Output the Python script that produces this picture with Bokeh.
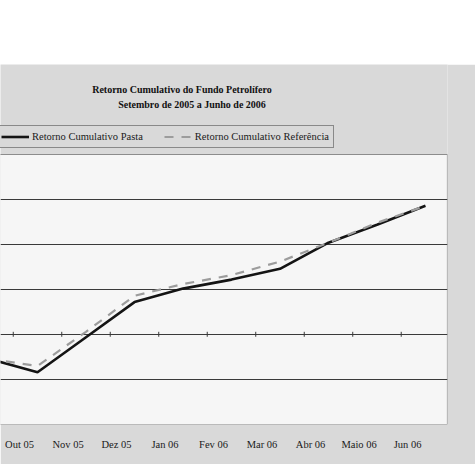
from bokeh.plotting import figure
from bokeh.models import (FixedTicker, CustomJSTickFormatter, Legend, LegendItem,
                          Label, Spacer, ColumnDataSource, Range1d)
from bokeh.layouts import column
from bokeh.embed import file_html
from bokeh.resources import INLINE

# ---- data (cumulative return, %) ----
months = ["Set 05", "Out 05", "Nov 05", "Dez 05", "Jan 06", "Fev 06",
          "Mar 06", "Abr 06", "Maio 06", "Jun 06"]
pasta = [-2.7, -4.2, -0.3, 3.6, 5.1, 6.1, 7.3, 10.2, 12.2, 14.3]
referencia = [-2.7, -3.5, 0.3, 4.3, 5.6, 6.6, 8.1, 10.2, 12.4, 14.3]
grid_values = [-5, 0, 5, 10, 15]
title1 = "Retorno Cumulativo do Fundo Petrolífero"
title2 = "Setembro de 2005 a Junho de 2006"
name_pasta = "Retorno Cumulativo Pasta"
name_ref = "Retorno Cumulativo Referência"

# ---- view / style constants ----
X_START, X_END = 0.237, 9.454
Y_MIN, Y_MAX, Y_TOP = -10, 20, 30
LABEL_SHIFT = 0.37
SERIF = "Liberation Serif"
BG = "#d9d9d9"

xs = list(range(len(months)))

p = figure(width=475, height=400, output_backend="svg", toolbar_location=None,
           x_range=Range1d(X_START, X_END), y_range=Range1d(Y_MIN, Y_TOP),
           y_axis_location=None, min_border_left=0, min_border_top=0,
           min_border_right=28, min_border_bottom=40)
p.outline_line_color = None
p.background_fill_color = BG
p.border_fill_color = BG

# plot area
area = p.quad(left=[X_START - 1], right=[X_END], bottom=[Y_MIN], top=[Y_MAX],
              fill_color="#f6f6f6", line_color="#8c8c8c", line_width=1.2)
area.level = "image"

# grid
p.xgrid.visible = False
p.ygrid.ticker = FixedTicker(ticks=grid_values)
p.ygrid.grid_line_color = "#3a3a3a"
p.ygrid.grid_line_width = 1.1

# small tick marks on the zero line at category boundaries
bounds = [i + 0.5 for i in range(len(months) - 1)]
p.segment(x0=bounds, x1=bounds, y0=[-0.25] * len(bounds), y1=[0.3] * len(bounds),
          line_color="#3a3a3a", line_width=1)

# series
src = ColumnDataSource(dict(x=xs, pasta=pasta, ref=referencia))
r1 = p.line("x", "pasta", source=src, line_color="#141414", line_width=2.6)
r2 = p.line("x", "ref", source=src, line_color="#9c9c9c", line_width=2.2,
            line_dash="9 8")

# x axis labels
p.xaxis.ticker = FixedTicker(ticks=[x - LABEL_SHIFT for x in xs])
p.xaxis.formatter = CustomJSTickFormatter(
    args=dict(labels=months, shift=LABEL_SHIFT),
    code="const i = Math.round(tick + shift); return labels[i] || '';")
p.xaxis.axis_line_color = None
p.xaxis.major_tick_line_color = None
p.xaxis.minor_tick_line_color = None
p.xaxis.major_tick_out = 0
p.xaxis.major_tick_in = 0
p.xaxis.major_label_standoff = 14
p.xaxis.major_label_text_font = SERIF
p.xaxis.major_label_text_font_size = "10.5px"
p.xaxis.major_label_text_color = "#1a1a1a"

# titles
p.add_layout(Label(x=3.979, y=27.22, text=title1, text_align="center",
                   text_baseline="alphabetic", text_font=SERIF,
                   text_font_size="10px", text_font_style="bold",
                   text_color="#111111"))
p.add_layout(Label(x=4.186, y=25.56, text=title2, text_align="center",
                   text_baseline="alphabetic", text_font=SERIF,
                   text_font_size="10px", text_font_style="bold",
                   text_color="#111111"))

# legend
legend = Legend(items=[LegendItem(label=name_pasta, renderers=[r1]),
                       LegendItem(label=name_ref, renderers=[r2])],
                orientation="horizontal", location=(-4, 276))
legend.label_text_font = SERIF
legend.label_text_font_size = "10.5px"
legend.label_text_color = "#1a1a1a"
legend.glyph_width = 28
legend.glyph_height = 13
legend.label_height = 13
legend.label_standoff = 3
legend.spacing = 21
legend.padding = 4
legend.margin = 0
legend.border_line_color = "#3a3a3a"
legend.border_line_width = 1
legend.background_fill_color = BG
legend.background_fill_alpha = 1
p.add_layout(legend, "center")

layout = column(Spacer(width=475, height=64), p, spacing=0)

open("out.html", "w").write(file_html(layout, INLINE))
